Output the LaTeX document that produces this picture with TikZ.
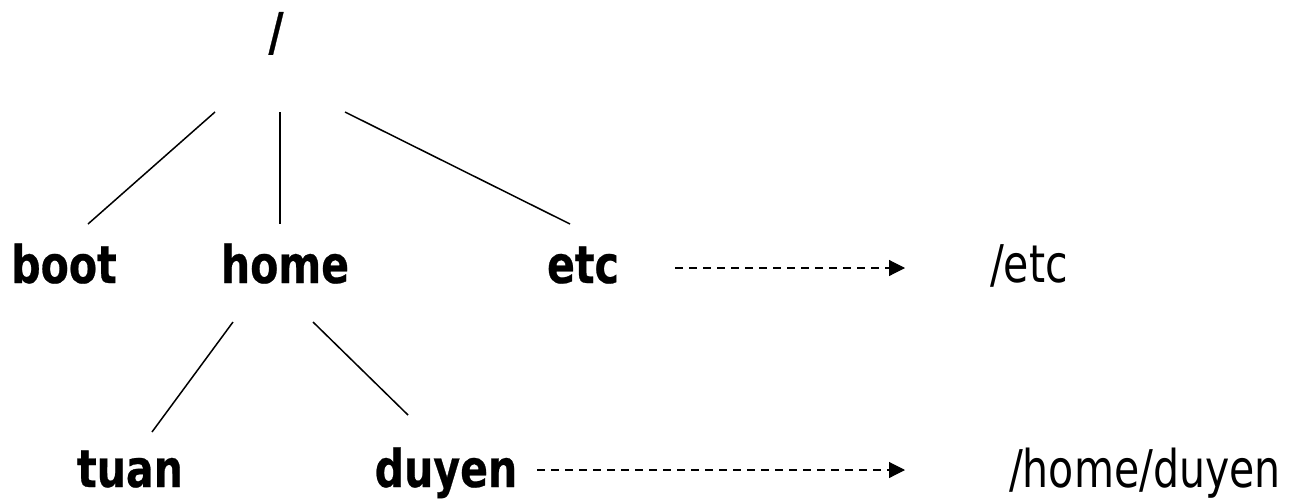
\documentclass[tikz,border=0pt]{standalone}
\usepackage{fontspec}
\setmainfont{DejaVu Sans}[FakeStretch=0.79, BoldFeatures={FakeBold=0.5}]
\usetikzlibrary{arrows.meta}
\begin{document}
\begin{tikzpicture}[x=1pt,y=-1pt,
  dirnode/.style={font=\fontsize{52}{62}\selectfont\bfseries, inner sep=0pt, anchor=base},
  pathnode/.style={font=\fontsize{52}{62}\selectfont, inner sep=0pt, anchor=base},
  treeline/.style={line width=1.5pt},
  linkarrow/.style={line width=1.1pt, dash pattern=on 8pt off 6pt, -{Triangle[length=16pt,width=16pt]}}]
\useasboundingbox (0,0) rectangle (1292,498);
% nodes
\node[dirnode] (root) at (276,50) {/};
\node[dirnode] (boot) at (64,283) {boot};
\node[dirnode] (home) at (285,283) {home};
\node[dirnode] (etc) at (583,283) {etc};
\node[dirnode] (tuan) at (130,487) {tuan};
\node[dirnode] (duyen) at (446,487) {duyen};
\node[pathnode] (etcpath) at (1029,282) {/etc};
\node[pathnode] (duyenpath) at (1145,487) {/home/duyen};
% line end coordinates
\coordinate (rb) at (215,112);
\coordinate (bt) at (88,224);
\coordinate (rh) at (280,112);
\coordinate (ht) at (280,224);
\coordinate (re) at (345,112);
\coordinate (et) at (570,224);
\coordinate (ht1) at (233,322);
\coordinate (tt) at (152,432);
\coordinate (ht2) at (313,322);
\coordinate (dt) at (408,415);
\coordinate (ea) at (675,268);
\coordinate (eb) at (905,268);
\coordinate (da) at (537,470);
\coordinate (db) at (905,470);
% tree lines
\draw[treeline] (rb) -- (bt);
\draw[treeline] (rh) -- (ht);
\draw[treeline] (re) -- (et);
\draw[treeline] (ht1) -- (tt);
\draw[treeline] (ht2) -- (dt);
% link arrows
\draw[linkarrow] (ea) -- (eb);
\draw[linkarrow] (da) -- (db);
\end{tikzpicture}
\end{document}
